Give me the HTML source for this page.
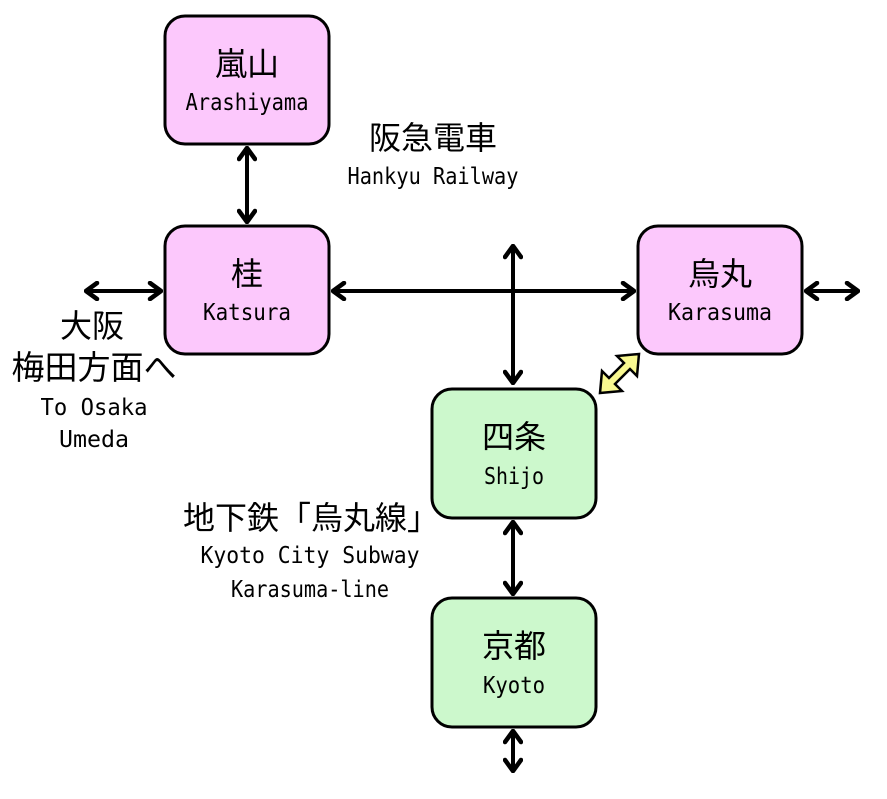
<!DOCTYPE html>
<html><head><meta charset="utf-8"><style>
body{margin:0;background:#fff}
svg text{font-family:"Liberation Mono","Noto Sans CJK JP",monospace;text-anchor:middle;fill:#000}
.j{font-family:"Noto Sans CJK JP",sans-serif;font-size:32px}
.e{font-size:23px;font-family:"DejaVu Sans Mono",monospace}
</style></head><body>
<svg width="887" height="794" viewBox="0 0 887 794" xmlns="http://www.w3.org/2000/svg">
<defs>
<marker id="a" viewBox="0 0 16 20" refX="14" refY="10" markerWidth="16" markerHeight="20" markerUnits="userSpaceOnUse" orient="auto-start-reverse">
<path d="M3,2 L14,10 L3,18" fill="none" stroke="#000" stroke-width="4.5" stroke-linecap="round" stroke-linejoin="round"/>
</marker>
</defs>
<g fill="#fcc8fc" stroke="#000" stroke-width="3">
<rect x="165" y="16" width="164" height="128" rx="20"/>
<rect x="165" y="226" width="164" height="128" rx="20"/>
<rect x="638" y="226" width="164" height="128" rx="20"/>
</g>
<g fill="#ccf8cc" stroke="#000" stroke-width="3">
<rect x="432" y="389" width="164" height="129" rx="20"/>
<rect x="432" y="598" width="164" height="129" rx="20"/>
</g>
<g stroke="#000" stroke-width="4" marker-start="url(#a)" marker-end="url(#a)">
<line x1="247" y1="148" x2="247" y2="222"/>
<line x1="333" y1="291" x2="634" y2="291"/>
<line x1="86" y1="291" x2="161" y2="291"/>
<line x1="806" y1="291" x2="858" y2="291"/>
<line x1="513" y1="246" x2="513" y2="383"/>
<line x1="513" y1="522" x2="513" y2="594"/>
<line x1="513" y1="731" x2="513" y2="771"/>
</g>
<polygon points="600,393 602,371 609,378 624,363 617,356 639,354 637,376 630,369 615,384 622,391" fill="#f8f890" stroke="#000" stroke-width="2.5" stroke-linejoin="miter"/>
<text class="j" x="247" y="75">嵐山</text><text class="e" x="247" y="110" textLength="123" lengthAdjust="spacingAndGlyphs">Arashiyama</text>
<text class="j" x="247" y="285">桂</text><text class="e" x="247" y="320" textLength="88" lengthAdjust="spacingAndGlyphs">Katsura</text>
<text class="j" x="720" y="285">烏丸</text><text class="e" x="720" y="320" textLength="104" lengthAdjust="spacingAndGlyphs">Karasuma</text>
<text class="j" x="514" y="448">四条</text><text class="e" x="514" y="484" textLength="60" lengthAdjust="spacingAndGlyphs">Shijo</text>
<text class="j" x="514" y="657">京都</text><text class="e" x="514" y="693" textLength="62" lengthAdjust="spacingAndGlyphs">Kyoto</text>
<text class="j" x="433" y="149">阪急電車</text><text class="e" x="433" y="184" textLength="171" lengthAdjust="spacingAndGlyphs">Hankyu Railway</text>
<text class="j" x="92" y="337">大阪</text>
<text class="j" x="94" y="379" style="font-size:33px">梅田方面へ</text>
<text class="e" x="94" y="415" textLength="107" lengthAdjust="spacingAndGlyphs">To Osaka</text><text class="e" x="94" y="447" textLength="70" lengthAdjust="spacingAndGlyphs">Umeda</text>
<text class="j" x="311" y="529">地下鉄「烏丸線」</text>
<text class="e" x="310" y="563" textLength="219" lengthAdjust="spacingAndGlyphs">Kyoto City Subway</text>
<text class="e" x="310" y="597" textLength="158" lengthAdjust="spacingAndGlyphs">Karasuma-line</text>
</svg>
</body></html>
